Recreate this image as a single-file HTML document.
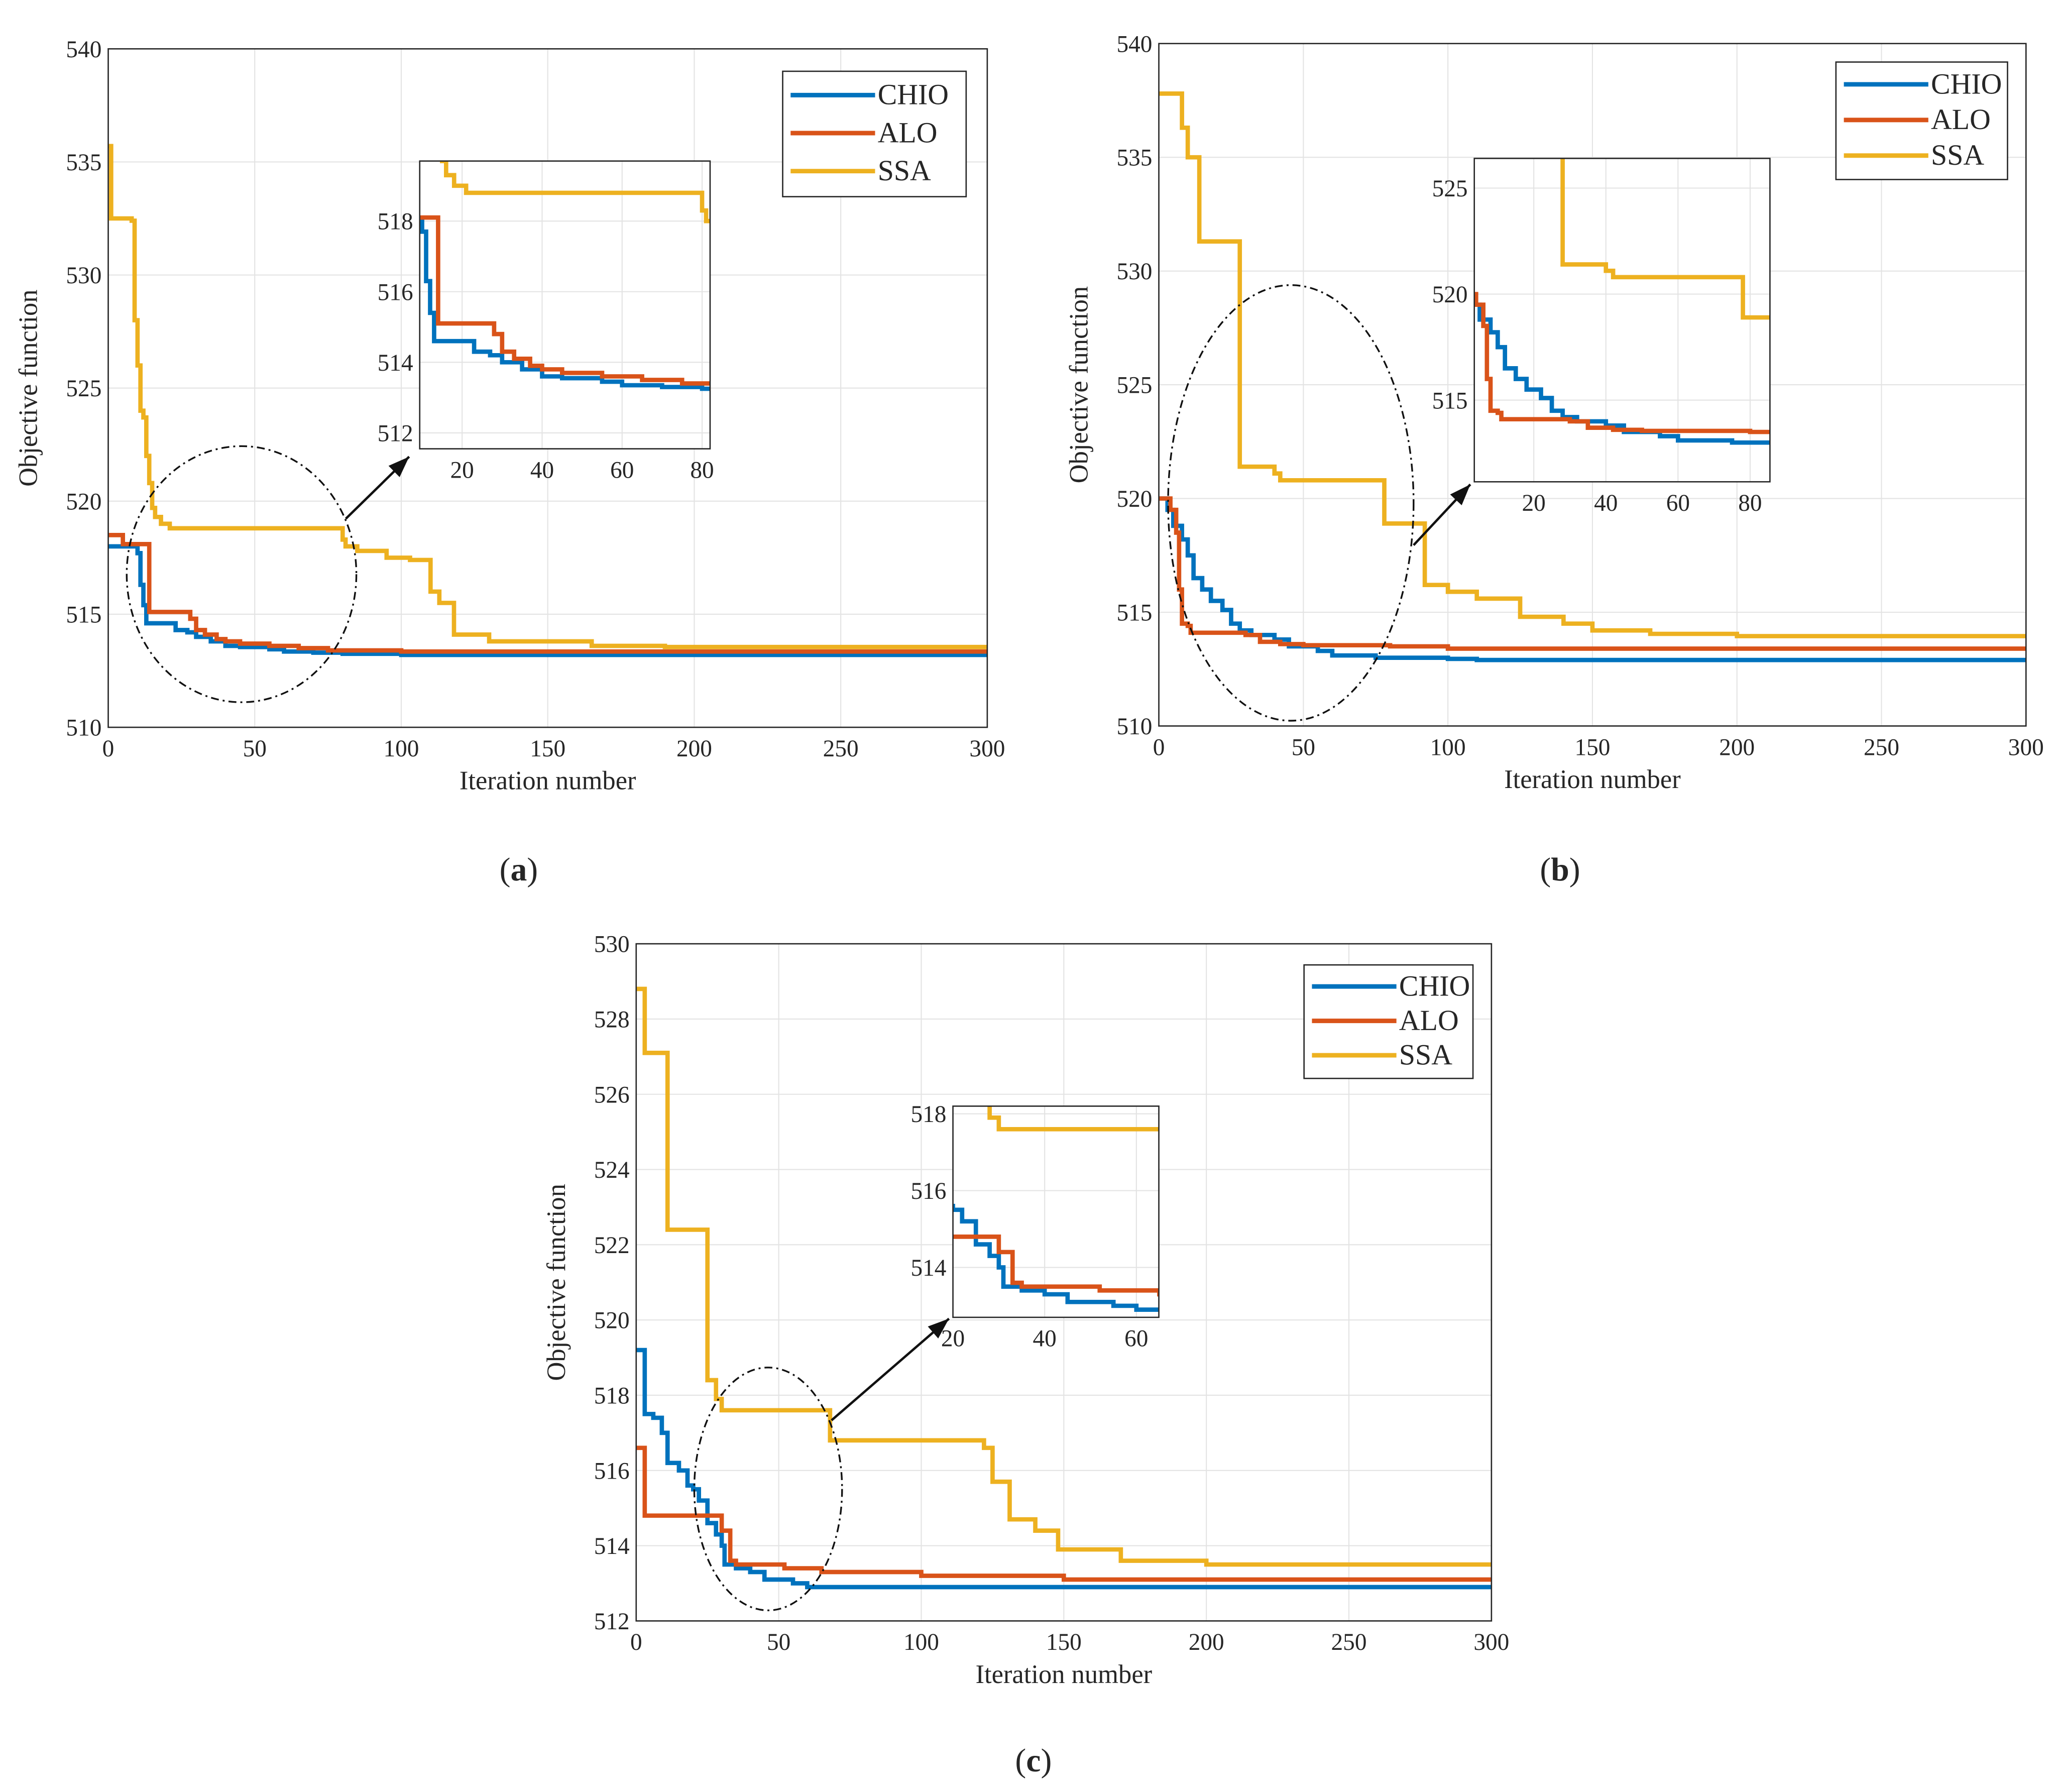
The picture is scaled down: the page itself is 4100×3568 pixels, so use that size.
<!DOCTYPE html>
<html><head><meta charset="utf-8"><style>
html,body{margin:0;padding:0;background:#fff}
svg{display:block}
text{font-family:"Liberation Serif",serif;fill:#262626}
</style></head><body>
<svg id="fig" width="4100" height="3568" viewBox="0 0 1560 1357.6" preserveAspectRatio="none" xmlns="http://www.w3.org/2000/svg">
<rect width="1560" height="1358" fill="#fff"/>
<text x="393" y="667" font-size="25" text-anchor="middle">(<tspan font-weight="bold">a</tspan>)</text>
<text x="1182" y="667" font-size="25" text-anchor="middle">(<tspan font-weight="bold">b</tspan>)</text>
<text x="783" y="1342" font-size="25" text-anchor="middle">(<tspan font-weight="bold">c</tspan>)</text>
</svg>
<script>
// ---- data (iteration breakpoints and objective values) ----
const aChioX=[0,10,11,12,13,23,27,30,35,40,45,55,60,70,80,100];
const aChioY=[518.0,517.7,516.3,515.4,514.6,514.3,514.2,514.0,513.8,513.6,513.55,513.45,513.35,513.3,513.25,513.2];
const aAloX=[0,5,14,28,30,33,37,40,45,55,65,75,100];
const aAloY=[518.5,518.1,515.1,514.8,514.3,514.1,513.9,513.8,513.7,513.6,513.5,513.4,513.35];
const aSsaX=[0,1,8,9,10,11,12,13,14,15,16,18,21,80,81,85,95,103,110,113,118,130,165,190];
const aSsaY=[535.7,532.5,532.4,528,526,524,523.7,522,520.8,519.7,519.3,519.0,518.8,518.3,518.0,517.8,517.5,517.4,516.0,515.5,514.1,513.8,513.6,513.55];
const bChioX=[0,3,5,8,10,12,15,18,22,25,28,32,40,45,55,60,75,100,110];
const bChioY=[520,519.5,518.8,518.2,517.5,516.5,516,515.5,515.1,514.5,514.2,514.0,513.8,513.5,513.3,513.1,513.0,512.95,512.9];
const bAloX=[0,4,6,7,8,10,11,30,35,42,50,80,100];
const bAloY=[520,519.5,518.5,516,514.5,514.4,514.1,514.0,513.7,513.6,513.55,513.5,513.4];
const bSsaX=[0,8,10,14,28,40,42,78,92,100,110,125,140,150,170,200];
const bSsaY=[537.8,536.3,535.0,531.3,521.4,521.1,520.8,518.9,516.2,515.9,515.6,514.8,514.5,514.2,514.05,513.95];
const cChioX=[0,3,6,9,11,15,18,20,22,25,28,30,31,35,40,45,55,60];
const cChioY=[519.2,517.5,517.4,517.0,516.2,516,515.6,515.5,515.2,514.6,514.3,514.0,513.5,513.4,513.3,513.1,513.0,512.9];
const cAloX=[0,3,30,33,35,52,65,100,150];
const cAloY=[516.6,514.8,514.4,513.6,513.5,513.4,513.3,513.2,513.1];
const cSsaX=[0,3,11,25,28,30,68,122,125,131,140,148,170,200];
const cSsaY=[528.8,527.1,522.4,518.4,517.9,517.6,516.8,516.6,515.7,514.7,514.4,513.9,513.6,513.5];
const mainXTicks=[0,50,100,150,200,250,300];
const abYTicks=[510,515,520,525,530,535,540];
const cYTicks=[512,514,516,518,520,522,524,526,528,530];
const aInXTicks=[20,40,60,80], aInYTicks=[512,514,516,518];
const bInXTicks=[20,40,60,80], bInYTicks=[515,520,525];
const cInXTicks=[20,40,60], cInYTicks=[514,516,518];
const seriesNames=["CHIO","ALO","SSA"];
// ---- drawing ----
const NS="http://www.w3.org/2000/svg", svg=document.getElementById('fig');
const COLORS=["#0072BD","#D95319","#EDB120"];
function mk(tag,attrs,parent){const e=document.createElementNS(NS,tag);for(const k in attrs)e.setAttribute(k,attrs[k]);(parent||svg).appendChild(e);return e;}
let clipId=0;
function panel(id,box,xlim,ylim,xt,yt,series,opt){
  const g=mk('g',{});
  
  
  const X=v=>box.x0+(v-xlim[0])/(xlim[1]-xlim[0])*(box.x1-box.x0);
  const Y=v=>box.y1-(v-ylim[0])/(ylim[1]-ylim[0])*(box.y1-box.y0);
  mk('rect',{x:box.x0,y:box.y0,width:box.x1-box.x0,height:box.y1-box.y0,fill:'#fff'},g);
  xt.forEach(t=>{const l=mk('line',{x1:X(t),x2:X(t),y1:box.y0,y2:box.y1,stroke:'#e3e3e3','stroke-width':0.8},g);
    
    const tx=mk('text',{x:X(t),y:box.y1+opt.fs+4,'font-size':opt.fs,'text-anchor':'middle'},g);tx.textContent=t;
    });
  yt.forEach(t=>{const l=mk('line',{x1:box.x0,x2:box.x1,y1:Y(t),y2:Y(t),stroke:'#e3e3e3','stroke-width':0.8},g);
    
    const tx=mk('text',{x:box.x0-5,y:Y(t)+opt.fs*0.35,'font-size':opt.fs,'text-anchor':'end'},g);tx.textContent=t;
    });
  const cid='clip'+(clipId++);
  const cp=mk('clipPath',{id:cid},g);mk('rect',{x:box.x0,y:box.y0,width:box.x1-box.x0,height:box.y1-box.y0},cp);
  series.forEach((s,i)=>{
    let d='M'+X(s[0][0])+','+Y(s[1][0]);
    for(let k=1;k<s[0].length;k++){d+=' H'+X(s[0][k])+' V'+Y(s[1][k]);}
    d+=' H'+X(300);
    const p=mk('path',{d:d,fill:'none',stroke:COLORS[i],'stroke-width':opt.lw,'clip-path':'url(#'+cid+')'},g);
    
    
  });
  mk('rect',{x:box.x0,y:box.y0,width:box.x1-box.x0,height:box.y1-box.y0,fill:'none',stroke:'#262626','stroke-width':1},g);
  if(opt.xlabel){const t=mk('text',{x:(box.x0+box.x1)/2,y:box.y1+47,'font-size':20,'text-anchor':'middle'},g);t.textContent='Iteration number';
    
    const cx=box.x0-54,cy=(box.y0+box.y1)/2;
    const t2=mk('text',{x:cx,y:cy,'font-size':20,'text-anchor':'middle',transform:'rotate(-90 '+cx+' '+cy+')'},g);t2.textContent='Objective function';
    }
}
function legend(id,x0,y0,w,h){
  const g=mk('g',{});
  
  
  mk('rect',{x:x0,y:y0,width:w,height:h,fill:'#fff',stroke:'#262626','stroke-width':1},g);
  const step=h/3.3;
  seriesNames.forEach((n,i)=>{const y=y0+h*0.19+i*step;
    mk('line',{x1:x0+6,x2:x0+70,y1:y,y2:y,stroke:COLORS[i],'stroke-width':3.4},g);
    const t=mk('text',{x:x0+72,y:y+7,'font-size':22},g);t.textContent=n;
    });
}
function zoomMark(id,cx,cy,rx,ry,ax1,ay1,ax2,ay2){
  const e=mk('ellipse',{cx:cx,cy:cy,rx:rx,ry:ry,fill:'none',stroke:'#111','stroke-width':1.3,'stroke-dasharray':'6 3 1.5 3'});
  
  const l=mk('line',{x1:ax1,y1:ay1,x2:ax2,y2:ay2,stroke:'#111','stroke-width':1.8});
  
  const a=Math.atan2(ay2-ay1,ax2-ax1),L=16,W=6;
  const bx=ax2-L*Math.cos(a),by=ay2-L*Math.sin(a);
  mk('polygon',{points:ax2+','+ay2+' '+(bx+W*Math.sin(a))+','+(by-W*Math.cos(a))+' '+(bx-W*Math.sin(a))+','+(by+W*Math.cos(a)),fill:'#111'});
}
const A=[[aChioX,aChioY],[aAloX,aAloY],[aSsaX,aSsaY]];
const B=[[bChioX,bChioY],[bAloX,bAloY],[bSsaX,bSsaY]];
const C=[[cChioX,cChioY],[cAloX,cAloY],[cSsaX,cSsaY]];
panel('chart-a',{x0:82,x1:748,y0:37,y1:551},[0,300],[510,540],mainXTicks,abYTicks,A,{fs:18,lw:3.3,xlabel:true});
panel('chart-b',{x0:878,x1:1535,y0:33,y1:550},[0,300],[510,540],mainXTicks,abYTicks,B,{fs:18,lw:3.3,xlabel:true});
panel('chart-c',{x0:482,x1:1130,y0:715,y1:1228},[0,300],[512,530],mainXTicks,cYTicks,C,{fs:18,lw:3.3,xlabel:true});
legend('chart-a',593,54,139,95);
legend('chart-b',1391,47,130,89);
legend('chart-c',988,731,128,86);
zoomMark('chart-a',183,435,87,97,262,393,310,346);
zoomMark('chart-b',978,381,93,165,1071,413,1114,367);
zoomMark('chart-c',582,1128,56,92,630,1076,719,999);
panel('inset-a',{x0:318,x1:538,y0:122,y1:340},[9.4,82],[511.55,519.7],aInXTicks,aInYTicks,A,{fs:18,lw:3.3});
panel('inset-b',{x0:1117,x1:1341,y0:120,y1:365},[3.5,85.5],[511.15,526.4],bInXTicks,bInYTicks,B,{fs:18,lw:3.3});
panel('inset-c',{x0:722,x1:878,y0:838,y1:998},[20,64.9],[512.7,518.2],cInXTicks,cInYTicks,C,{fs:18,lw:3.3});
</script>
</body></html>
